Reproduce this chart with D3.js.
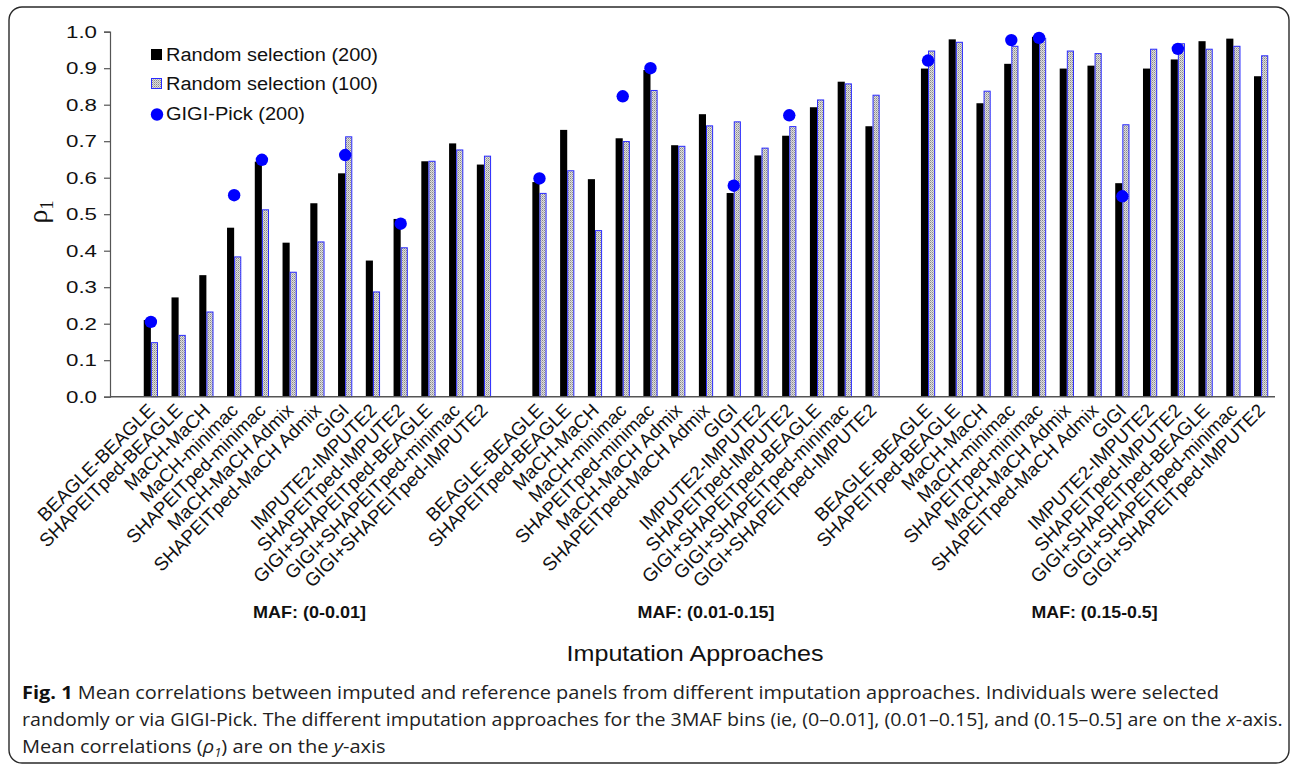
<!DOCTYPE html>
<html>
<head>
<meta charset="utf-8">
<script src="https://cdn.jsdelivr.net/npm/d3@7"></script>
<style>
  html, body { margin: 0; padding: 0; background: #fff; }
  svg { display: block; }
</style>
</head>
<body>
<svg id="chart" width="1295" height="768"></svg>
<script>
// ---------------- DATA ----------------
const approaches = ["BEAGLE-BEAGLE","SHAPEITped-BEAGLE","MaCH-MaCH","MaCH-minimac","SHAPEITped-minimac",
  "MaCH-MaCH Admix","SHAPEITped-MaCH Admix","GIGI","IMPUTE2-IMPUTE2","SHAPEITped-IMPUTE2",
  "GIGI+SHAPEITped-BEAGLE","GIGI+SHAPEITped-minimac","GIGI+SHAPEITped-IMPUTE2"];
const mafBins = ["MAF: (0-0.01]","MAF: (0.01-0.15]","MAF: (0.15-0.5]"];
const seriesNames = ["Random selection (200)","Random selection (100)","GIGI-Pick (200)"];
const yTicks = [0,0.1,0.2,0.3,0.4,0.5,0.6,0.7,0.8,0.9,1.0];

const rand200Low  = [0.210,0.272,0.333,0.463,0.644,0.422,0.530,0.612,0.373,0.487,0.645,0.694,0.636];
const rand100Low  = [0.148,0.168,0.232,0.383,0.512,0.341,0.424,0.712,0.287,0.408,0.645,0.676,0.659];
const gigiLow     = [0.205,null,null,0.552,0.649,null,null,0.662,null,0.474,null,null,null];

const rand200Mid  = [0.588,0.731,0.596,0.708,0.895,0.689,0.774,0.558,0.661,0.715,0.793,0.863,0.741];
const rand100Mid  = [0.557,0.619,0.455,0.699,0.839,0.686,0.742,0.753,0.681,0.740,0.813,0.857,0.826];
const gigiMid     = [0.598,null,null,0.823,0.900,null,null,0.578,null,0.771,null,null,null];

const rand200High = [0.899,0.979,0.804,0.912,0.986,0.899,0.907,0.585,0.899,0.924,0.974,0.981,0.878];
const rand100High = [0.947,0.971,0.837,0.960,0.982,0.947,0.940,0.745,0.952,0.967,0.952,0.960,0.934];
const gigiHigh    = [0.921,null,null,0.977,0.983,null,null,0.549,null,0.953,null,null,null];

const rand200 = [rand200Low, rand200Mid, rand200High];
const rand100 = [rand100Low, rand100Mid, rand100High];
const gigi    = [gigiLow, gigiMid, gigiHigh];

// ---------------- BUILD ----------------
const svg = d3.select("#chart");
const defs = svg.append("defs");
const pat = defs.append("pattern").attr("id","dots").attr("width",2).attr("height",2)
  .attr("patternUnits","userSpaceOnUse");
pat.append("rect").attr("width",2).attr("height",2).attr("fill","#dedede");
pat.append("rect").attr("x",0).attr("y",0).attr("width",1).attr("height",1).attr("fill","#8a8a8a");
pat.append("rect").attr("x",1).attr("y",1).attr("width",1).attr("height",1).attr("fill","#b0b0b0");

// figure border
svg.append("rect").attr("x",9).attr("y",7).attr("width",1280).attr("height",756)
  .attr("rx",13).attr("ry",13).attr("fill","none").attr("stroke","#2a2a2a").attr("stroke-width",1.4);

// slot keys (with one blank spacer between bins)
const slots = [];
const rows = [];
mafBins.forEach((bin, b) => {
  approaches.forEach((name, i) => {
    const key = b + "_" + i;
    slots.push(key);
    rows.push({key, b, i, name, r200: rand200[b][i], r100: rand100[b][i], gp: gigi[b][i]});
  });
  if (b < mafBins.length - 1) slots.push("gap" + b);
});

const axisLeftX = 110;
const x = d3.scaleBand().domain(slots).range([137, 1275]).paddingInner(0).paddingOuter(0);
const xs = d3.scaleBand().domain(["r200","r100"]).range([0, x.bandwidth()]).paddingInner(0).paddingOuter(0.95);
const y = d3.scaleLinear().domain([0, 1]).range([396.7, 31.7]);

// bars
const g = svg.append("g");
g.selectAll("rect.r200").data(rows).join("rect").attr("class","r200")
  .attr("x", d => x(d.key) + xs("r200")).attr("width", xs.bandwidth())
  .attr("y", d => y(d.r200)).attr("height", d => y(0) - y(d.r200))
  .attr("fill","#000");
g.selectAll("rect.r100").data(rows).join("rect").attr("class","r100")
  .attr("x", d => x(d.key) + xs("r100") + 0.5).attr("width", xs.bandwidth() - 1)
  .attr("y", d => y(d.r100)).attr("height", d => y(0) - y(d.r100))
  .attr("fill","url(#dots)").attr("stroke","#2a2aff").attr("stroke-width",1);

// axes
const yAxis = svg.append("g").attr("transform", `translate(${axisLeftX},0)`)
  .call(d3.axisLeft(y).tickValues(yTicks).tickFormat(d3.format(".1f")).tickSize(6).tickPadding(7));
yAxis.select(".domain").attr("stroke","#555").attr("stroke-width",1.2);
yAxis.selectAll(".tick line").attr("stroke","#555").attr("stroke-width",1.2);
yAxis.selectAll(".tick text").attr("font-family","Arial, 'Liberation Sans', sans-serif")
  .attr("font-size",17).attr("fill","#111").attr("textLength",31).attr("lengthAdjust","spacingAndGlyphs");

svg.append("line").attr("x1", axisLeftX).attr("x2", 1275).attr("y1", y(0)).attr("y2", y(0))
  .attr("stroke","#555").attr("stroke-width",1.4);

// GIGI-Pick dots
g.selectAll("circle.gp").data(rows.filter(d => d.gp != null)).join("circle").attr("class","gp")
  .attr("cx", d => x(d.key) + x.bandwidth()/2).attr("cy", d => y(d.gp)).attr("r", 6.2)
  .attr("fill","#0000ff");

// x tick labels (rotated)
const xAxis = svg.append("g").attr("transform", `translate(0,${y(0)})`)
  .call(d3.axisBottom(x).tickValues(rows.map(d => d.key))
    .tickFormat(k => approaches[+k.split("_")[1]]).tickSize(0).tickPadding(0));
xAxis.select(".domain").remove();
xAxis.selectAll(".tick text")
  .attr("font-family","Arial, 'Liberation Sans', sans-serif").attr("font-size",18.8).attr("fill","#111")
  .attr("text-anchor","end").attr("dy",0).attr("y",0)
  .attr("transform","translate(5,15) rotate(-45)");

// MAF bin labels
mafBins.forEach((bin, b) => {
  const first = x(b + "_0"), last = x(b + "_" + (approaches.length - 1)) + x.bandwidth();
  svg.append("text").attr("x", (first + last)/2 - (b === 0 ? 8 : 0)).attr("y", 618)
    .attr("text-anchor","middle").attr("font-family","Arial, 'Liberation Sans', sans-serif")
    .attr("font-weight","bold").attr("font-size",16.5).attr("fill","#111")
    .attr("textLength", [113, 137, 126][b]).attr("lengthAdjust","spacingAndGlyphs").text(bin);
});

// axis title
svg.append("text").attr("x", 695).attr("y", 661).attr("text-anchor","middle")
  .attr("font-family","Arial, 'Liberation Sans', sans-serif").attr("font-size",22.5).attr("fill","#111")
  .attr("textLength",257).attr("lengthAdjust","spacingAndGlyphs").text("Imputation Approaches");

// y title rho_1
const yt = svg.append("text").attr("transform","translate(47,212) rotate(-90)")
  .attr("text-anchor","middle").attr("font-family","'Liberation Serif', 'DejaVu Serif', serif")
  .attr("font-size",28).attr("fill","#111");
yt.append("tspan").text("ρ");
yt.append("tspan").attr("font-size",18).attr("dy",6).text("1");

// legend
const lg = svg.append("g");
const legendRows = [{name: seriesNames[0], kind:"r200", cy:54.5, w:212},
                    {name: seriesNames[1], kind:"r100", cy:83.5, w:212},
                    {name: seriesNames[2], kind:"gp",  cy:113, w:139}];
legendRows.forEach(r => {
  if (r.kind === "r200") lg.append("rect").attr("x",151).attr("y",r.cy-5.5).attr("width",11).attr("height",11).attr("fill","#000");
  if (r.kind === "r100") lg.append("rect").attr("x",151.5).attr("y",r.cy-5).attr("width",10).attr("height",10)
      .attr("fill","url(#dots)").attr("stroke","#2a2aff").attr("stroke-width",1);
  if (r.kind === "gp") lg.append("circle").attr("cx",157).attr("cy",r.cy+1.5).attr("r",6.2).attr("fill","#0000ff");
  lg.append("text").attr("x",166).attr("y",r.cy+6.6).attr("font-family","Arial, 'Liberation Sans', sans-serif")
    .attr("font-size",18).attr("fill","#111").attr("textLength",r.w).attr("lengthAdjust","spacingAndGlyphs").text(r.name);
});

// caption
const capFont = "'Open Sans', 'Noto Sans', sans-serif";
const capLines = [
  {y: 699, w: 1198, parts: [["Fig. 1","bold",""],[" Mean correlations between imputed and reference panels from different imputation approaches. Individuals were selected","",""]]},
  {y: 726, w: 1262, parts: [["randomly or via GIGI-Pick. The different imputation approaches for the 3MAF bins (ie, (0–0.01], (0.01–0.15], and (0.15–0.5] are on the ","",""],["x","","italic"],["-axis.","",""]]},
  {y: 753, w: 364, parts: [["Mean correlations (","",""],["ρ","","italic"],["1","","italic-sub"],[") are on the ","",""],["y","","italic"],["-axis","",""]]}
];
capLines.forEach(line => {
  const t = svg.append("text").attr("x",22).attr("y",line.y).attr("font-family",capFont)
    .attr("font-size",18.5).attr("fill","#222");
  line.parts.forEach(([txt, wt, st]) => {
    const sp = t.append("tspan").text(txt);
    if (wt) sp.attr("font-weight", wt).attr("fill","#111");
    if (st === "italic") sp.attr("font-style","italic");
    if (st === "italic-sub") { sp.attr("font-style","italic").attr("font-size",12).attr("dy",4); }
  });
  t.selectAll("tspan").filter((d,i,n) => i > 0 && d3.select(n[i-1]).attr("dy") === "4").attr("dy",-4);
  const w = t.node().getComputedTextLength();
  const s = line.w / w;
  t.attr("transform", `translate(22,0) scale(${s},1) translate(-22,0)`);
});
</script>
</body>
</html>
